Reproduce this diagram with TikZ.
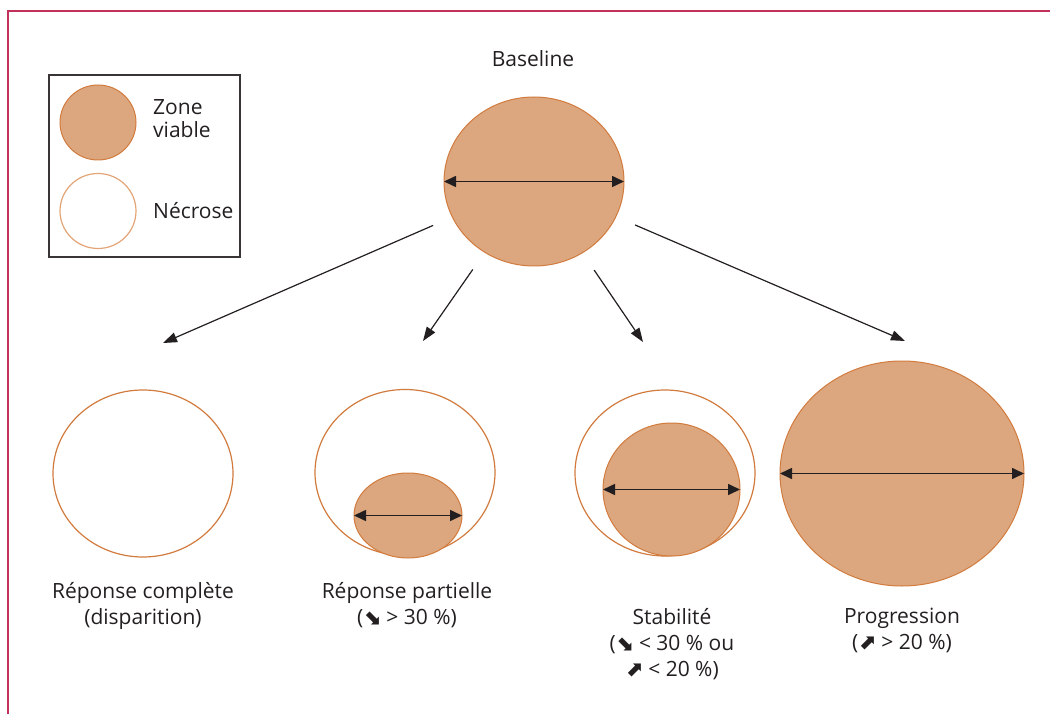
\documentclass[tikz,border=0pt]{standalone}
\usepackage{fontspec}
\setmainfont{Open Sans}
\newfontfamily\symfont{DejaVu Sans}
\usetikzlibrary{shapes.geometric,arrows.meta,positioning}
\definecolor{viable}{HTML}{DCA77E}
\definecolor{rim}{HTML}{D27B3E}
\definecolor{rimlight}{HTML}{E3A577}
\definecolor{framecol}{HTML}{C2305C}
\definecolor{ink}{HTML}{231F20}
\newcommand{\arrdown}{{\symfont\bfseries ⬊}}
\newcommand{\arrup}{{\symfont\bfseries ⬈}}

\begin{document}
\begin{tikzpicture}[x=1pt,y=-1pt,
	zone/.style={ellipse,draw=rim,fill=viable,line width=1pt,inner sep=0pt,outer sep=0pt},
	necr/.style={ellipse,draw=rim,fill=white,line width=1.2pt,inner sep=0pt,outer sep=0pt},
	size/.style={<->,>={Triangle[length=12pt,width=11pt]},line width=1.6pt,draw=ink},
	link/.style={-{Triangle[length=14pt,width=10pt]},line width=1.2pt,draw=ink,shorten <=21pt},
	lbl/.style={font=\fontsize{21}{26}\selectfont,text=ink,align=center,inner sep=0pt}]
		
		\useasboundingbox (0,0) rectangle (1050,714);
		\draw[framecol,line width=2pt] (1050,11) -- (8,11) -- (8,714);
		
		% legend
		\node[draw=ink!90,line width=1.5pt,minimum width=191pt,minimum height=182pt,inner sep=0pt] (legend) at (144.5,166) {};
		\node[zone,minimum width=76pt,minimum height=75pt] (keyzone) at (98,122.5) {};
		\node[necr,draw=rimlight,minimum width=76pt,minimum height=75pt] (keynecr) at (98,211) {};
		\node[lbl,font=\fontsize{21}{23}\selectfont,align=left,anchor=west] (keyzonetxt) at (153,119) {Zone\\viable};
		\node[lbl,anchor=west] (keynecrtxt) at (153,211) {Nécrose};
		
		% baseline
		\node[zone,minimum width=180pt,minimum height=169pt] (base) at (534,181.5) {};
		\node[lbl] (basetxt) at (533,59) {Baseline};
		\draw[size] (base.west) -- (base.east);
		
		% outcomes
		\node[necr,minimum width=180pt,minimum height=167pt] (cr) at (143,473.5) {};
		\node[necr,minimum width=180pt,minimum height=166pt] (pr) at (405,472.5) {};
		\node[zone,minimum width=108pt,minimum height=85pt] (prz) at (408,515.5) {};
		\node[necr,minimum width=180pt,minimum height=166pt] (sd) at (665,473) {};
		\node[zone,minimum width=137pt,minimum height=133pt] (sdz) at (671.5,489.5) {};
		\node[zone,minimum width=244pt,minimum height=225pt] (pd) at (902,473.5) {};
		\draw[size] (prz.west) -- (prz.east);
		\draw[size] (sdz.west) -- (sdz.east);
		\draw[size] (pd.west) -- (pd.east);
		
		\node[lbl,anchor=north] (crtxt) at (143,582) {Réponse complète\\(disparition)};
		\node[lbl,anchor=north] (prtxt) at (407,582) {Réponse partielle\\(\arrdown{} > 30 \%)};
		\node[lbl,anchor=north] (sdtxt) at (672,608) {Stabilité\\(\arrdown{} < 30 \% ou\\\arrup{} < 20 \%)};
		\node[lbl,anchor=north] (pdtxt) at (902,608) {Progression\\(\arrup{} > 20 \%)};
		
		% links
		\coordinate (tcr) at (163,343);
		\coordinate (tpr) at (423,341);
		\coordinate (tsd) at (643,342);
		\coordinate (tpd) at (905,341);
		\draw[link] (base) -- (tcr);
		\draw[link] (base) -- (tpr);
		\draw[link] (base) -- (tsd);
		\draw[link] (base) -- (tpd);
		
		\end{tikzpicture}
\end{document}
